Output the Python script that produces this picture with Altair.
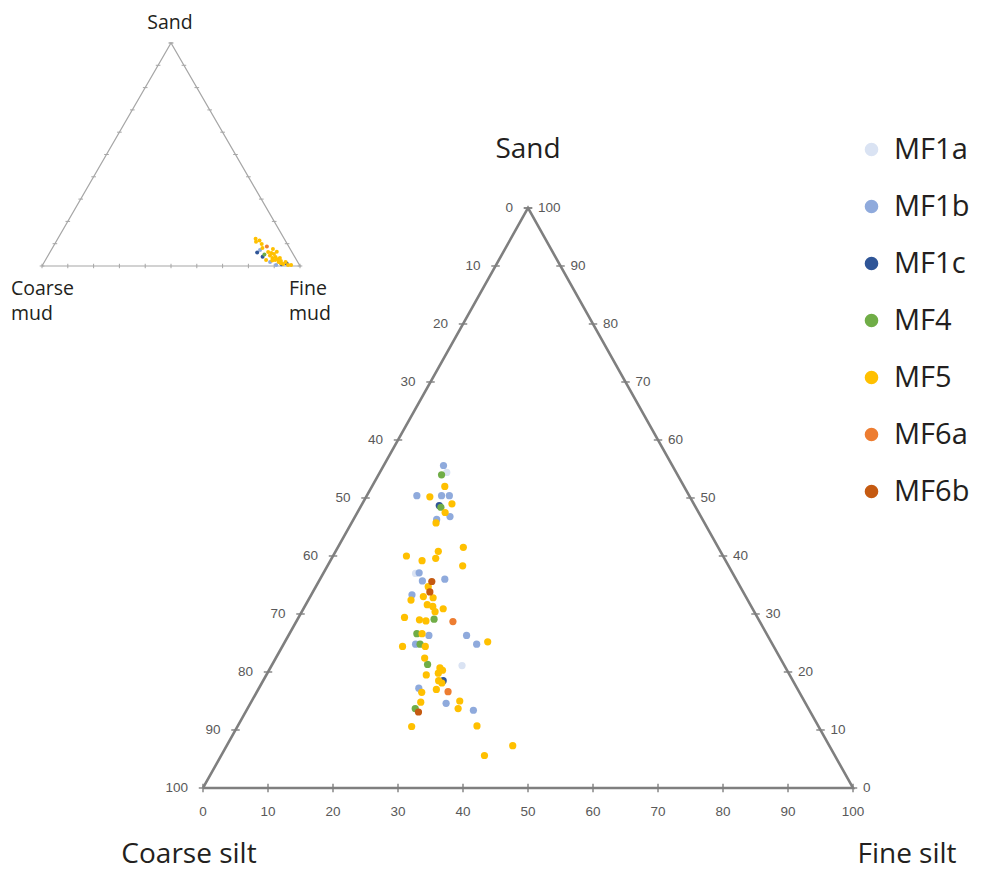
import altair as alt
import pandas as pd

# ---------------- data ----------------
CATS = ["MF1a", "MF1b", "MF1c", "MF4", "MF5", "MF6a", "MF6b"]
COLORS = ["#dae3f3", "#8faadc", "#2f5597", "#70ad47", "#ffc000", "#ed7d31", "#c55a11"]

# main diagram (Sand / Coarse silt / Fine silt), values in %
main_sand = [55.6, 54.4, 54.0, 52.0, 50.4, 50.2, 50.4, 50.4, 49.0, 48.7,
             48.4, 47.5, 46.8, 46.3, 45.7, 41.5, 40.8, 40.0, 39.6, 39.2,
             38.3, 37.1, 37.0, 35.7, 35.6, 36.0, 34.7, 33.8, 33.3, 32.4,
             33.0, 32.8, 31.6, 31.3, 30.9, 30.4, 29.4, 29.0, 28.8, 29.1,
             28.7, 26.6, 26.6, 26.3, 26.3, 24.8, 25.2, 24.8, 24.8, 24.4,
             24.4, 22.4, 21.3, 21.1, 20.7, 20.3, 19.8, 19.5, 18.5, 18.5,
             18.1, 17.2, 16.5, 17.0, 16.6, 14.6, 15.0, 13.7, 14.8, 13.7,
             13.1, 13.4, 10.6, 10.7, 7.3, 5.6]
main_fine = [9.2, 10.3, 9.7, 11.2, 7.7, 9.8, 11.5, 12.7, 13.8, 12.0,
             12.4, 13.5, 14.6, 12.8, 13.0, 19.3, 15.8, 11.3, 16.0, 14.1,
             20.8, 14.7, 14.2, 15.9, 17.4, 19.2, 17.3, 18.0, 15.5, 15.8,
             17.4, 19.0, 18.7, 19.7, 21.5, 20.5, 16.3, 18.8, 19.9, 21.0,
             24.1, 19.6, 20.4, 21.6, 27.4, 29.7, 31.2, 20.3, 21.0, 22.0,
             18.5, 22.9, 23.9, 29.3, 26.1, 26.7, 26.3, 24.6, 27.0, 27.7,
             27.7, 24.6, 25.4, 27.4, 29.4, 30.1, 32.0, 32.4, 26.1, 25.8,
             26.6, 34.9, 26.8, 36.8, 44.0, 40.5]
main_cat = ["MF1b", "MF1a", "MF4", "MF5", "MF1b", "MF5", "MF1b", "MF1b", "MF5", "MF1c",
            "MF4", "MF5", "MF1b", "MF1b", "MF5", "MF5", "MF5", "MF5", "MF5", "MF5",
            "MF5", "MF1b", "MF1a", "MF1b", "MF6b", "MF1b", "MF5", "MF6b", "MF1b", "MF5",
            "MF5", "MF5", "MF5", "MF5", "MF5", "MF5", "MF5", "MF5", "MF5", "MF4",
            "MF6a", "MF4", "MF5", "MF1b", "MF1b", "MF1b", "MF5", "MF1b", "MF4", "MF5",
            "MF5", "MF5", "MF4", "MF1a", "MF5", "MF5", "MF5", "MF5", "MF5", "MF1c",
            "MF5", "MF1b", "MF5", "MF5", "MF6a", "MF1b", "MF5", "MF5", "MF5", "MF4",
            "MF6b", "MF1b", "MF5", "MF5", "MF5", "MF5"]

# inset diagram (Sand / Coarse mud / Fine mud), values in %
inset_sand = [10.9, 11.4, 9.9, 8.1, 8.7, 6.0, 4.2, 5.2, 6.3, 4.7,
              3.6, 5.4, 6.4, 2.7, 1.8, 3.6, 0.9, 1.8, 0.5, 0.5,
              0.8, 1.8, 2.7, 0.5, 7.6, 7.2, 12.2, 1.1, 4.0, 2.2,
              3.0, 1.2, 5.8, 2.5]
inset_fine = [77.5, 78.6, 80.2, 81.4, 82.8, 80.4, 83.4, 83.6, 84.5, 86.0,
              87.5, 87.2, 87.8, 89.0, 90.8, 90.4, 93.0, 93.5, 95.1, 96.3,
              92.5, 87.5, 85.5, 90.5, 85.7, 80.9, 76.7, 94.3, 88.5, 91.5,
              89.8, 92.0, 86.0, 88.0]
inset_cat = ["MF5", "MF5", "MF5", "MF5", "MF6a", "MF1c", "MF1c", "MF4", "MF5", "MF5",
             "MF5", "MF5", "MF5", "MF5", "MF5", "MF5", "MF5", "MF5", "MF5", "MF5",
             "MF1c", "MF1b", "MF5", "MF1b", "MF5", "MF1b", "MF5", "MF1c", "MF5", "MF5",
             "MF5", "MF5", "MF5", "MF5"]

TICKS = list(range(0, 101, 10))

# ---------------- helpers ----------------
def tern_x(sand, fine):
    return fine + sand / 2.0


def xs(dom):
    return alt.X("x:Q", scale=alt.Scale(domain=dom, nice=False, zero=False), axis=None)


def ys(dom, field="y"):
    return alt.Y(f"{field}:Q", scale=alt.Scale(domain=dom, nice=False, zero=False), axis=None)


def x2():
    return alt.X2("x2:Q")


def y2():
    return alt.Y2("y2:Q")


def points_df(sand, fine, cat):
    df = pd.DataFrame({"sand": sand, "fine": fine, "cat": cat})
    df["x"] = [tern_x(s, f) for s, f in zip(df["sand"], df["fine"])]
    df["y"] = df["sand"]
    df["k"] = df["cat"].map({c: i for i, c in enumerate(CATS)})
    return df.sort_values("k", kind="stable")


def outline_df():
    corners = [(0, 0), (100, 0), (0, 100), (0, 0)]  # (sand, fine): coarse, sand, fine, coarse
    return pd.DataFrame({
        "x": [tern_x(s, f) for s, f in corners],
        "y": [s for s, f in corners],
        "o": list(range(len(corners))),
    })


def ticks_df(h, v):
    rows = []
    for s in TICKS:  # left edge (fine = 0)
        x = tern_x(s, 0)
        rows.append(dict(x=x - h, x2=x + h, y=s, y2=s))
    for s in TICKS:  # right edge (coarse = 0)
        x = tern_x(s, 100 - s)
        rows.append(dict(x=x - h, x2=x + h, y=s, y2=s))
    for f in TICKS:  # base (sand = 0)
        x = tern_x(0, f)
        rows.append(dict(x=x, x2=x, y=-v, y2=v))
    return pd.DataFrame(rows)


color_enc = alt.Color(
    "cat:N",
    scale=alt.Scale(domain=CATS, range=COLORS),
    legend=alt.Legend(
        title=None, orient="none", legendX=857, legendY=135,
        symbolType="circle", symbolSize=185, symbolStrokeWidth=0, symbolOpacity=1,
        labelFont="Open Sans", labelFontSize=29, labelColor="#231f20",
        labelOffset=8, rowPadding=27, padding=0,
    ),
)

# ---------------- main ternary ----------------
XM = [-31.23, 119.69]
YM = [-14.14, 135.86]
GRAY = "#7f7f7f"
TICK_FONT = "Liberation Sans Narrow, Arial Narrow, sans-serif"
LABEL_FONT = "Open Sans"

main_outline = alt.Chart(outline_df()).mark_line(
    color=GRAY, strokeWidth=2.6, strokeJoin="miter"
).encode(x=xs(XM), y=ys(YM), order="o:Q")

main_ticks = alt.Chart(ticks_df(0.65, 0.75)).mark_rule(
    color=GRAY, strokeWidth=1.4
).encode(x=xs(XM), y=ys(YM), x2=x2(), y2=y2())

left_lab = pd.DataFrame({"x": [tern_x(s, 0) for s in TICKS], "y": TICKS,
                         "t": [str(100 - s) for s in TICKS]})
right_lab = pd.DataFrame({"x": [tern_x(s, 100 - s) for s in TICKS], "y": TICKS,
                          "t": [str(s) for s in TICKS]})
base_lab = pd.DataFrame({"x": [tern_x(0, f) for f in TICKS], "y": [0] * len(TICKS),
                         "t": [str(f) for f in TICKS]})

tick_style = dict(font=TICK_FONT, fontSize=13.5, color="#595959", baseline="middle")
main_left_text = alt.Chart(left_lab).mark_text(align="right", dx=-15, **tick_style).encode(
    x=xs(XM), y=ys(YM), text="t:N")
main_right_text = alt.Chart(right_lab).mark_text(align="left", dx=10, **tick_style).encode(
    x=xs(XM), y=ys(YM), text="t:N")
main_base_text = alt.Chart(base_lab).mark_text(align="center", dy=24, **tick_style).encode(
    x=xs(XM), y=ys(YM), text="t:N")

corner_main = pd.DataFrame({
    "x": [tern_x(100, 0), tern_x(0, 0), tern_x(0, 100)],
    "y": [100, 0, 0],
    "t": ["Sand", "Coarse silt", "Fine silt"],
})
corner_style = dict(font=LABEL_FONT, fontSize=28, color="#231f20", baseline="middle", align="center")
main_c1 = alt.Chart(corner_main.iloc[[0]]).mark_text(dy=-58, **corner_style).encode(
    x=xs(XM), y=ys(YM), text="t:N")
main_c2 = alt.Chart(corner_main.iloc[[1]]).mark_text(dx=-14, dy=67, **corner_style).encode(
    x=xs(XM), y=ys(YM), text="t:N")
main_c3 = alt.Chart(corner_main.iloc[[2]]).mark_text(dx=54, dy=67, **corner_style).encode(
    x=xs(XM), y=ys(YM), text="t:N")

main_pts = alt.Chart(points_df(main_sand, main_fine, main_cat)).mark_circle(
    size=52, opacity=1
).encode(x=xs(XM), y=ys(YM), color=color_enc, order="k:Q")

main_layer = alt.layer(
    main_outline, main_ticks, main_left_text, main_right_text, main_base_text,
    main_c1, main_c2, main_c3, main_pts,
)

# ---------------- inset ternary ----------------
XI = [-16.28, 363.95]
YI = [-270.85, 119.28]
IGRAY = "#a6a6a6"

inset_outline = alt.Chart(outline_df()).mark_line(
    color=IGRAY, strokeWidth=1.2, strokeJoin="miter"
).encode(x=xs(XI), y=ys(YI), order="o:Q")

inset_ticks = alt.Chart(ticks_df(0.9, 1.0)).mark_rule(
    color=IGRAY, strokeWidth=1
).encode(x=xs(XI), y=ys(YI), x2=x2(), y2=y2())

corner_inset = pd.DataFrame({
    "x": [tern_x(100, 0), tern_x(0, 0), tern_x(0, 100)],
    "y": [100, 0, 0],
    "t": ["Sand", "Coarse\nmud", "Fine\nmud"],
})
inset_style = dict(font=LABEL_FONT, fontSize=19.5, color="#231f20", baseline="alphabetic",
                   lineBreak="\n", lineHeight=25)
inset_c1 = alt.Chart(corner_inset.iloc[[0]]).mark_text(align="center", dx=-1, dy=-14, **inset_style).encode(
    x=xs(XI), y=ys(YI), text="t:N")
inset_c2 = alt.Chart(corner_inset.iloc[[1]]).mark_text(align="left", dx=-31, dy=29, **inset_style).encode(
    x=xs(XI), y=ys(YI), text="t:N")
inset_c3 = alt.Chart(corner_inset.iloc[[2]]).mark_text(align="left", dx=-11, dy=29, **inset_style).encode(
    x=xs(XI), y=ys(YI), text="t:N")

inset_pts = alt.Chart(points_df(inset_sand, inset_fine, inset_cat)).mark_circle(
    size=16, opacity=1
).encode(x=xs(XI), y=ys(YI), color=alt.Color("cat:N", scale=alt.Scale(domain=CATS, range=COLORS), legend=None),
         order="k:Q")

inset_layer = alt.layer(inset_outline, inset_ticks, inset_c1, inset_c2, inset_c3, inset_pts)

chart = (
    alt.layer(main_layer, inset_layer)
    .resolve_scale(x="independent", y="independent")
    .properties(width=981, height=870, autosize=alt.AutoSizeParams(type="none"), padding=0,
                background="white")
    .configure_view(stroke=None)
)

chart.save("out.html", embed_options={"renderer": "svg", "actions": False})
